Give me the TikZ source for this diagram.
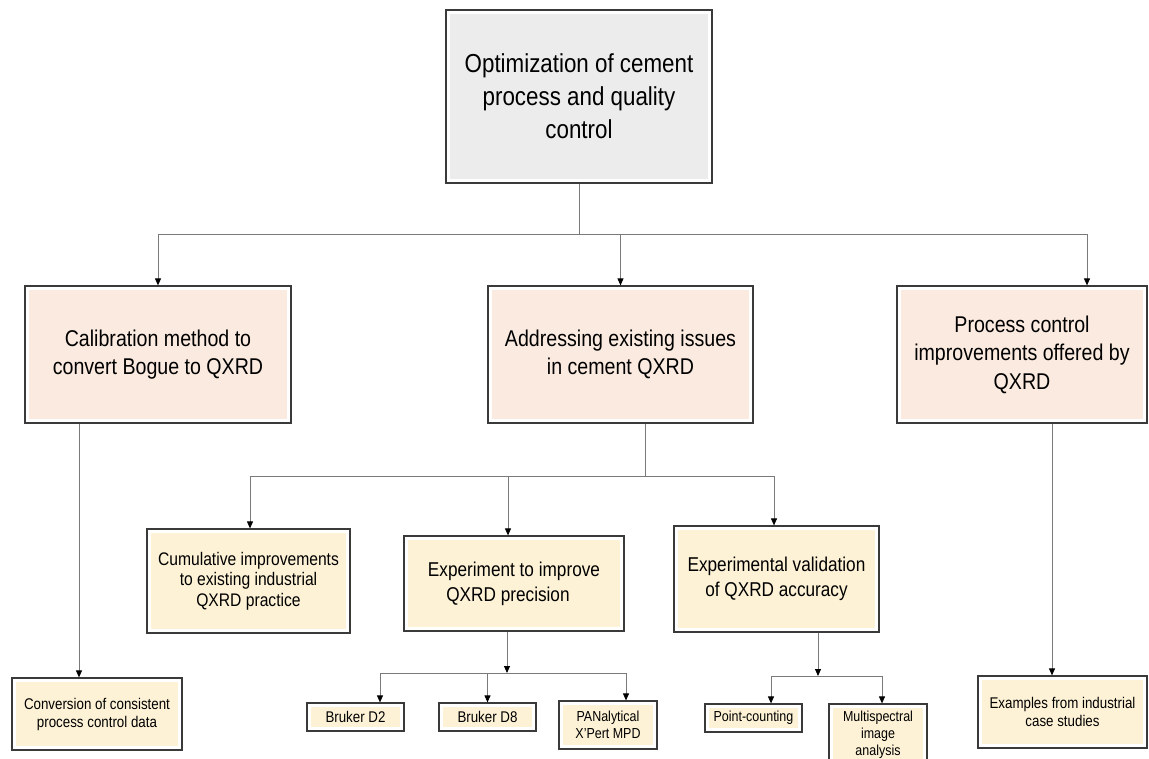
\documentclass[tikz,border=0pt]{standalone}
\usepackage{fontspec}
\setmainfont{Liberation Sans}[FakeStretch=0.86]
\usepackage{tikz}
\usetikzlibrary{arrows.meta}
\definecolor{boxline}{HTML}{3A3A3A}
\definecolor{linkgray}{HTML}{7A7A7A}
\definecolor{topfill}{HTML}{ECECEC}
\definecolor{peachfill}{HTML}{FBEADF}
\definecolor{creamfill}{HTML}{FDF2D6}
\newcommand{\lvlAfont}{\fontsize{26}{33}\selectfont}
\newcommand{\lvlBfont}{\fontsize{22.8}{28.5}\selectfont}
\newcommand{\lvlCfont}{\fontsize{18.2}{20.5}\selectfont}
\newcommand{\lvlCCfont}{\fontsize{20}{25}\selectfont}
\newcommand{\lvlDfont}{\fontsize{15.5}{18}\selectfont}
\newcommand{\lvlEfont}{\fontsize{14.5}{17}\selectfont}

\begin{document}
\begin{tikzpicture}[x=1pt, y=-1pt,
	box/.style={draw=boxline, line width=1.2pt, inner sep=0pt, align=center,
		path picture={\fill[#1] ([shift={(4pt,-4pt)}]path picture bounding box.north west)
			rectangle ([shift={(-4pt,4pt)}]path picture bounding box.south east);}},
	arr/.style={draw=linkgray, line width=0.9pt, -{Triangle[length=7pt,width=6pt,color=black]}},
	link/.style={draw=linkgray, line width=0.9pt}]
		%%%%% START %%%%%
		
		\clip (0, 0) rectangle (1149, 759);
		
		% top
		\node[box=topfill, minimum width=266pt, minimum height=173pt, font=\lvlAfont] (top) at (579, 96.5)
			{Optimization of cement\\process and quality\\control};
		
		% second row
		\node[box=peachfill, minimum width=266pt, minimum height=137pt, font=\lvlBfont] (calib) at (158, 354.5)
			{Calibration method to\\convert Bogue to QXRD};
		\node[box=peachfill, minimum width=265pt, minimum height=137pt, font=\lvlBfont] (address) at (620.5, 354.5)
			{Addressing existing issues\\in cement QXRD};
		\node[box=peachfill, minimum width=250pt, minimum height=137pt, font=\lvlBfont] (proc) at (1022, 354.5)
			{Process control\\improvements offered by\\QXRD};
		
		% third row
		\node[box=creamfill, minimum width=203pt, minimum height=104pt, font=\lvlCfont] (cumul) at (248.5, 581)
			{Cumulative improvements\\to existing industrial\\QXRD practice};
		\node[box=creamfill, minimum width=220pt, minimum height=95pt, font=\lvlCCfont] (exper) at (514, 583.5)
			{Experiment to improve\\QXRD precision\hspace*{12pt}};
		\node[box=creamfill, minimum width=205pt, minimum height=106pt, font=\lvlCCfont] (valid) at (776.5, 579)
			{Experimental validation\\of QXRD accuracy};
		
		% bottom row
		\node[box=creamfill, minimum width=170pt, minimum height=72pt, font=\lvlDfont] (conv) at (97, 714)
			{Conversion of consistent\\process control data};
		\node[box=creamfill, minimum width=97pt, minimum height=28pt, font=\lvlDfont] (d2) at (355.5, 717) {Bruker D2};
		\node[box=creamfill, minimum width=97pt, minimum height=28pt, font=\lvlDfont] (d8) at (487.5, 717) {Bruker D8};
		\node[box=creamfill, minimum width=98pt, minimum height=48pt, font=\lvlEfont] (pan) at (608, 725)
			{PANalytical\\X'Pert MPD};
		\node[box=creamfill, minimum width=97pt, minimum height=28pt, font=\lvlEfont] (point) at (753.5, 718) {Point-counting};
		\node[box=creamfill, minimum width=98pt, minimum height=62pt, font=\lvlEfont] (multi) at (878, 735)
			{Multispectral\\image\\analysis};
		\node[box=creamfill, minimum width=169pt, minimum height=72pt, font=\lvlDfont] (exam) at (1062.5, 712)
			{Examples from industrial\\case studies};
		
		% buses
		\coordinate (busA) at (0, 234);
		\coordinate (busB) at (0, 476);
		\coordinate (busC) at (0, 673);
		\coordinate (busD) at (0, 676);
		\coordinate (procx) at (1087, 0);
		\coordinate (addrx) at (645, 0);
		\coordinate (leftx) at (79, 0);
		\coordinate (rightx) at (1052, 0);
		
		\draw[arr] (top.south) -- (top.south |- busA) -| (calib.north);
		\draw[arr] (top.south) -- (top.south |- busA) -| (address.north);
		\draw[arr] (top.south) -- (top.south |- busA) -| (proc.north -| procx);
		
		\draw[arr] (calib.south -| leftx) -- (conv.north -| leftx);
		\draw[arr] (proc.south -| rightx) -- (exam.north -| rightx);
		
		\draw[arr] (address.south -| addrx) -- (addrx |- busB) -| ([xshift=1.5pt]cumul.north);
		\draw[arr] (address.south -| addrx) -- (addrx |- busB) -| ([xshift=-6pt]exper.north);
		\draw[arr] (address.south -| addrx) -- (addrx |- busB) -| ([xshift=-2.5pt]valid.north);
		
		\draw[arr] ([xshift=-7pt]exper.south) -- ([xshift=-7pt]exper.south |- busC);
		\draw[arr] ([xshift=-7pt]exper.south |- busC) -| ([xshift=24.5pt]d2.north);
		\draw[arr] ([xshift=-7pt]exper.south |- busC) -| (d8.north);
		\draw[arr] ([xshift=-7pt]exper.south |- busC) -| ([xshift=18pt]pan.north);
		
		\draw[arr] ([xshift=41.5pt]valid.south) -- ([xshift=41.5pt]valid.south |- busD);
		\draw[arr] ([xshift=41.5pt]valid.south |- busD) -| ([xshift=17.5pt]point.north);
		\draw[arr] ([xshift=41.5pt]valid.south |- busD) -| ([xshift=4pt]multi.north);
		
		%%%%% END %%%%%
\end{tikzpicture}
\end{document}
